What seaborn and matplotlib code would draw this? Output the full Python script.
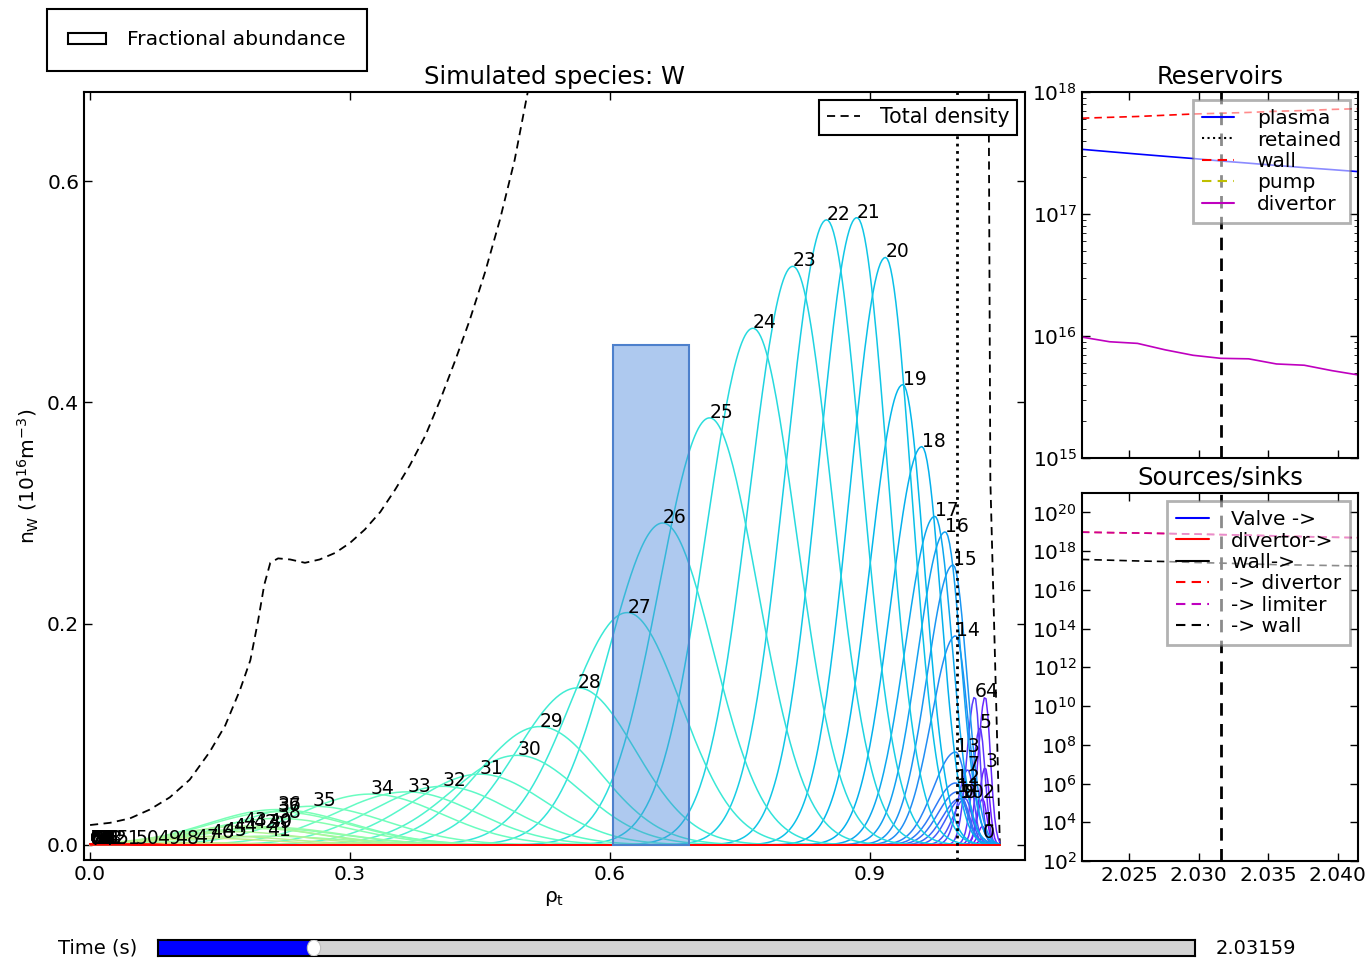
import numpy as np
import pandas as pd
import matplotlib
matplotlib.use("Agg")
import matplotlib.pyplot as plt
import seaborn as sns
from matplotlib.patches import Patch, Ellipse
from matplotlib.lines import Line2D
from matplotlib import ticker

# ------------------------------------------------------------------ data
charge_states = list(range(75))

# radial location (rho_t) of the maximum of each charge-state profile
peak_rho = [1.030, 1.030, 1.030, 1.033, 1.033, 1.027, 1.021, 1.013, 1.010, 1.006,
            1.004, 1.001, 0.999, 0.999, 0.999, 0.996, 0.987, 0.975, 0.960, 0.938,
            0.918, 0.885, 0.850, 0.811, 0.765, 0.715, 0.661, 0.620, 0.563, 0.519,
            0.493, 0.450, 0.407, 0.366, 0.324, 0.257, 0.216, 0.216, 0.216, 0.206,
            0.206, 0.204, 0.188, 0.177, 0.165, 0.153, 0.138, 0.121, 0.098, 0.077,
            0.052, 0.031, 0.015, 0.010, 0.008, 0.006, 0.005, 0.004, 0.003, 0.002,
            0.002, 0.001, 0.001, 0.001, 0.000, 0.000, 0.000, 0.000, 0.000, 0.000,
            0.000, 0.000, 0.000, 0.000, 0.000]
# maximum density of each charge state (1e16 m^-3)
peak_n = [0.006, 0.017, 0.042, 0.070, 0.134, 0.106, 0.134, 0.068, 0.042, 0.042,
          0.042, 0.048, 0.056, 0.084, 0.189, 0.253, 0.283, 0.297, 0.360, 0.416,
          0.531, 0.567, 0.565, 0.523, 0.467, 0.386, 0.291, 0.210, 0.142, 0.107,
          0.081, 0.064, 0.053, 0.048, 0.046, 0.035, 0.032, 0.030, 0.024, 0.015,
          0.016, 0.008, 0.015, 0.017, 0.012, 0.008, 0.006, 0.002, 0.001, 0.001,
          0.001, 0.001, 0.001, 0.001, 0.001, 0.001, 0.001, 0.001, 0.001, 0.001,
          0.001, 0.001, 0.001, 0.001, 0.001, 0.001, 0.001, 0.001, 0.001, 0.001,
          0.001, 0.001, 0.001, 0.001, 0.000]
# inner / outer widths of each profile
width_in = [0.004, 0.005, 0.006, 0.007, 0.008, 0.008, 0.009, 0.011, 0.014, 0.017,
            0.020, 0.022, 0.024, 0.026, 0.028, 0.030, 0.032, 0.034, 0.036, 0.038,
            0.041, 0.044, 0.047, 0.050, 0.054, 0.058, 0.062, 0.066, 0.070, 0.072,
            0.075, 0.078, 0.080, 0.082, 0.084, 0.085, 0.080, 0.080, 0.080, 0.080,
            0.080, 0.080, 0.078, 0.076, 0.074, 0.072, 0.070, 0.065, 0.060, 0.055,
            0.050, 0.045, 0.040, 0.040, 0.040, 0.040, 0.040, 0.040, 0.040, 0.040,
            0.040, 0.040, 0.040, 0.040, 0.040, 0.040, 0.040, 0.040, 0.040, 0.040,
            0.040, 0.040, 0.040, 0.040, 0.040]
width_out = [0.004, 0.004, 0.005, 0.005, 0.006, 0.006, 0.006, 0.007, 0.008, 0.009,
             0.010, 0.011, 0.012, 0.013, 0.014, 0.016, 0.018, 0.020, 0.022, 0.025,
             0.030, 0.035, 0.040, 0.045, 0.050, 0.055, 0.058, 0.062, 0.066, 0.070,
             0.073, 0.076, 0.078, 0.080, 0.082, 0.085, 0.085, 0.085, 0.085, 0.085,
             0.085, 0.085, 0.082, 0.080, 0.078, 0.076, 0.074, 0.070, 0.065, 0.060,
             0.055, 0.050, 0.045, 0.045, 0.045, 0.045, 0.045, 0.045, 0.045, 0.045,
             0.045, 0.045, 0.045, 0.045, 0.045, 0.045, 0.045, 0.045, 0.045, 0.045,
             0.045, 0.045, 0.045, 0.045, 0.045]

total_rho = [0.000, 0.023, 0.046, 0.069, 0.092, 0.115, 0.138, 0.156, 0.173, 0.185,
             0.194, 0.201, 0.208, 0.217, 0.231, 0.248, 0.265, 0.283, 0.300, 0.317,
             0.335, 0.352, 0.369, 0.387, 0.404, 0.421, 0.438, 0.456, 0.473, 0.490,
             0.505, 0.550, 0.700, 0.850, 0.950, 1.000, 1.037, 1.039, 1.050]
total_n = [0.018, 0.020, 0.024, 0.032, 0.043, 0.059, 0.084, 0.108, 0.140, 0.167,
           0.203, 0.235, 0.255, 0.259, 0.258, 0.255, 0.258, 0.264, 0.273, 0.285,
           0.301, 0.321, 0.343, 0.370, 0.402, 0.437, 0.474, 0.518, 0.565, 0.619,
           0.680, 0.860, 1.600, 2.000, 1.800, 1.400, 0.700, 0.330, 0.000]

frac_rho = [0.647]
frac_val = [0.452]

time = [2.0216, 2.0236, 2.0256, 2.0276, 2.0296, 2.0316, 2.0336, 2.0356, 2.0376, 2.0396, 2.0416]
res_plasma = [3.39e17, 3.24e17, 3.10e17, 2.97e17, 2.85e17, 2.72e17, 2.61e17, 2.50e17, 2.40e17, 2.31e17, 2.22e17]
res_retained = [0.0] * 11
res_wall = [6.1e17, 6.2e17, 6.3e17, 6.45e17, 6.6e17, 6.7e17, 6.8e17, 6.95e17, 7.05e17, 7.2e17, 7.3e17]
res_pump = [0.0] * 11
res_divertor = [9.8e15, 8.97e15, 8.7e15, 7.7e15, 6.95e15, 6.56e15, 6.5e15, 5.9e15, 5.76e15, 5.2e15, 4.77e15]

src_valve = [0.0] * 11
src_div_in = [0.0] * 11
src_wall_in = [0.0] * 11
sink_divertor = [9.5e18, 9.0e18, 8.6e18, 8.1e18, 7.6e18, 7.1e18, 6.6e18, 6.1e18, 5.6e18, 5.2e18, 4.9e18]
sink_limiter = [9.5e18, 9.0e18, 8.6e18, 8.1e18, 7.6e18, 7.1e18, 6.6e18, 6.1e18, 5.6e18, 5.2e18, 4.9e18]
sink_wall = [3.7e17, 3.4e17, 3.1e17, 2.9e17, 2.6e17, 2.4e17, 2.2e17, 2.0e17, 1.9e17, 1.8e17, 1.7e17]

t_now = 2.03159
slider_range = [2.0, 2.21]

# ------------------------------------------------------------------ style
sns.set_style("ticks")
plt.rcParams.update({
    "font.family": ["DejaVu Sans"],
    "mathtext.default": "regular",
    "text.color": "black",
    "axes.labelcolor": "black",
    "axes.linewidth": 1.5,
    "xtick.direction": "in", "ytick.direction": "in",
    "xtick.top": True, "ytick.right": True,
    "xtick.major.size": 6, "ytick.major.size": 6,
    "xtick.minor.size": 3, "ytick.minor.size": 3,
    "xtick.major.width": 1.0, "ytick.major.width": 1.0,
    "xtick.labelsize": 14.5, "ytick.labelsize": 14.5,
    "xtick.color": "black", "ytick.color": "black",
    "xtick.labelcolor": "black", "ytick.labelcolor": "black",
    "axes.edgecolor": "black",
    "lines.dashed_pattern": [4.5, 3.0],
    "legend.fontsize": 14.5,
})

fig = plt.figure(figsize=(13.65, 9.58), dpi=100)
W, H = 1365.0, 958.0
def box(l, t, r, b):
    return [l / W, 1 - b / H, (r - l) / W, (b - t) / H]

ax = fig.add_axes(box(84, 92, 1025, 860))
ax_r = fig.add_axes(box(1082, 92, 1358, 458))
ax_s = fig.add_axes(box(1082, 493, 1358, 861))
ax_sl = fig.add_axes(box(158, 940, 1195, 956))

# ------------------------------------------------------------------ main panel
rho_grid = np.linspace(0.0, 1.05, 526)
frames = []
for z, x0, a, si, so in zip(charge_states, peak_rho, peak_n, width_in, width_out):
    s = np.where(rho_grid < x0, si, so)
    frames.append(pd.DataFrame({"rho": rho_grid,
                                "n": a * np.exp(-0.5 * ((rho_grid - x0) / s) ** 2),
                                "Z": z}))
df = pd.concat(frames, ignore_index=True)
pal = {z: plt.cm.rainbow(z / (len(charge_states) - 1)) for z in charge_states}

sns.lineplot(x=total_rho, y=total_n, ax=ax, color="black", linestyle="--", lw=1.3,
             label="Total density", sort=False)
sns.lineplot(data=df, x="rho", y="n", hue="Z", hue_order=charge_states, palette=pal,
             estimator=None, sort=False, legend=False, lw=1.1, ax=ax)
ax.axvline(1.0, color="black", ls=":", lw=2.0)
ax.bar(frac_rho, frac_val, width=0.088, color=(0.25, 0.5, 0.85, 0.42),
       edgecolor=(0.3, 0.5, 0.8), lw=1.5, zorder=3)
for z in charge_states:
    ax.text(peak_rho[z], peak_n[z], str(z), fontsize=13.5, color="black", zorder=5)

ax.set_xlim(-0.007, 1.079)
ax.set_ylim(-0.0136, 0.6805)
ax.set_xticks([0.0, 0.3, 0.6, 0.9])
ax.set_yticks([0.0, 0.2, 0.4, 0.6])
ax.xaxis.set_major_formatter(ticker.FormatStrFormatter("%.1f"))
ax.yaxis.set_major_formatter(ticker.FormatStrFormatter("%.1f"))
ax.set_xlabel(r"$\rho_t$", fontsize=14.5)
ax.set_ylabel(r"$n_W$ ($10^{16}$m$^{-3}$)", fontsize=14.5)
ax.set_title("Simulated species: W", fontsize=17.5, pad=6)
leg = ax.legend(handles=[Line2D([], [], color="black", ls="--", lw=1.3)],
                labels=["Total density"], loc="upper right", fancybox=False,
                edgecolor="black", framealpha=1.0, borderpad=0.35,
                borderaxespad=0.4, handlelength=1.6, handletextpad=1.0,
                fontsize=14.8)
leg.get_frame().set_linewidth(1.5)

fig.legend(handles=[Patch(facecolor="white", edgecolor="black", lw=1.5)],
           labels=["Fractional abundance"], loc="upper left",
           bbox_to_anchor=(47 / W, 1 - 9 / H), borderaxespad=0.0, fancybox=False,
           edgecolor="black", framealpha=1.0, fontsize=14.6, borderpad=1.05,
           handlelength=1.85, handleheight=0.45,
           handletextpad=1.05).get_frame().set_linewidth(1.5)

# ------------------------------------------------------------------ reservoirs
ax_r.set_yscale("log", nonpositive="mask")
sns.lineplot(x=time, y=res_plasma, ax=ax_r, color="blue", lw=1.2)
ax_r.plot(time, res_retained, color="black", ls=":", lw=1.2)
sns.lineplot(x=time, y=res_wall, ax=ax_r, color="red", linestyle="--", lw=1.2)
ax_r.plot(time, res_pump, color="y", ls="--", lw=1.2)
sns.lineplot(x=time, y=res_divertor, ax=ax_r, color="m", lw=1.2)
ax_r.axvline(t_now, color="black", ls="--", lw=2.0)
ax_r.set_ylim(1e15, 1e18)
ax_r.set_title("Reservoirs", fontsize=17.5, pad=6)
leg_r = ax_r.legend(handles=[Line2D([], [], color="blue", lw=1.5),
                             Line2D([], [], color="black", ls=":", lw=1.5),
                             Line2D([], [], color="red", ls="--", lw=1.5),
                             Line2D([], [], color="y", ls="--", lw=1.5),
                             Line2D([], [], color="m", lw=1.5)],
                    labels=["plasma", "retained", "wall", "pump", "divertor"],
                    loc="upper right", fancybox=False, edgecolor="0.45", framealpha=0.55,
                    labelspacing=0.12, borderpad=0.45, borderaxespad=0.4,
                    handlelength=1.6, handletextpad=1.1, fontsize=14.5)
leg_r.get_frame().set_linewidth(2.0)

# ------------------------------------------------------------------ sources / sinks
ax_s.set_yscale("log", nonpositive="mask")
ax_s.plot(time, src_valve, color="blue", lw=1.2)
ax_s.plot(time, src_div_in, color="red", lw=1.2)
ax_s.plot(time, src_wall_in, color="black", lw=1.2)
sns.lineplot(x=time, y=sink_divertor, ax=ax_s, color="red", linestyle="--", lw=1.2)
sns.lineplot(x=time, y=sink_limiter, ax=ax_s, color="m", linestyle="--", lw=1.2, alpha=0.8)
sns.lineplot(x=time, y=sink_wall, ax=ax_s, color="black", linestyle="--", lw=1.2)
ax_s.axvline(t_now, color="black", ls="--", lw=2.0)
ax_s.set_ylim(1e2, 1e21)
ax_s.set_yticks([10.0 ** k for k in range(2, 21, 2)])
ax_s.yaxis.set_minor_locator(ticker.NullLocator())
ax_s.set_title("Sources/sinks", fontsize=17.5, pad=6)
leg_s = ax_s.legend(handles=[Line2D([], [], color="blue", lw=1.5),
                             Line2D([], [], color="red", lw=1.5),
                             Line2D([], [], color="black", lw=1.5),
                             Line2D([], [], color="red", ls="--", lw=1.5),
                             Line2D([], [], color="m", ls="--", lw=1.5),
                             Line2D([], [], color="black", ls="--", lw=1.5)],
                    labels=["Valve ->", "divertor->", "wall->", "-> divertor",
                            "-> limiter", "-> wall"],
                    loc="upper right", fancybox=False, edgecolor="0.45", framealpha=0.55,
                    labelspacing=0.12, borderpad=0.45, borderaxespad=0.4,
                    handlelength=1.6, handletextpad=1.1, fontsize=14.5)
leg_s.get_frame().set_linewidth(2.0)

for a in (ax_r, ax_s):
    a.set_xlim(2.02161, 2.04147)
    a.set_xticks([2.025, 2.030, 2.035, 2.040])
    a.set_xlabel("")
    a.set_ylabel("")
ax_s.xaxis.set_major_formatter(ticker.FormatStrFormatter("%.3f"))
ax_r.tick_params(axis="x", labelbottom=False)

# ------------------------------------------------------------------ slider
ax_sl.set_xlim(slider_range)
ax_sl.set_ylim(0, 1)
ax_sl.set_facecolor("#d3d3d3")
ax_sl.axvspan(slider_range[0], t_now, color="blue", lw=0)
ax_sl.add_patch(Ellipse((t_now, 0.5), width=0.0027, height=1.0, facecolor="white",
                        edgecolor="0.75", lw=0.8, zorder=5))
ax_sl.set_xticks([])
ax_sl.set_yticks([])
ax_sl.tick_params(top=False, right=False, bottom=False, left=False)
for sp in ax_sl.spines.values():
    sp.set_linewidth(1.5)
ax_sl.text(-0.02, 0.5, "Time (s)", transform=ax_sl.transAxes, ha="right",
           va="center", fontsize=14)
ax_sl.text(1.02, 0.5, "%.5f" % t_now, transform=ax_sl.transAxes, ha="left",
           va="center", fontsize=14)

fig.savefig("out.png", dpi=100)
